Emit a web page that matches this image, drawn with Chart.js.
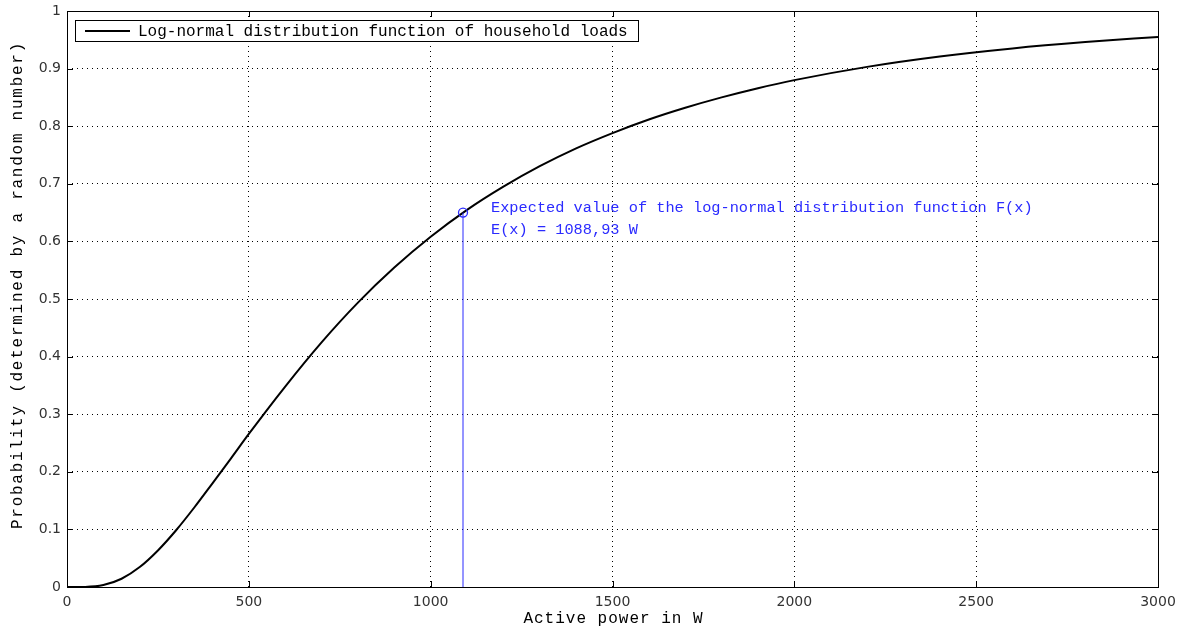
<!DOCTYPE html>
<html>
<head>
<meta charset="utf-8">
<script src="https://cdn.jsdelivr.net/npm/chart.js@4/dist/chart.umd.min.js"></script>
<style>
html,body{margin:0;padding:0;background:#fff;}
#wrap{width:1193px;height:630px;}
</style>
</head>
<body>
<div id="wrap"><canvas id="c" width="1193" height="630"></canvas></div>
<script>
// Values
const powerW = [0, 50, 100, 150, 200, 250, 300, 350, 400, 450, 500, 600, 700, 800, 900, 1000, 1100, 1200, 1300, 1400, 1500, 1600, 1700, 1800, 1900, 2000, 2200, 2400, 2600, 2800, 3000];
const probability = [0, 0.0002, 0.0033, 0.0143, 0.0346, 0.0634, 0.0985, 0.138, 0.180, 0.2225, 0.2657, 0.348, 0.4247, 0.4937, 0.5545, 0.608, 0.6547, 0.695, 0.7305, 0.7615, 0.788, 0.8116, 0.832, 0.850, 0.866, 0.880, 0.903, 0.921, 0.935, 0.946, 0.955];
const expectedX = [1088.93];
const expectedY = [0.65];
const xTicks = [0, 500, 1000, 1500, 2000, 2500, 3000];
const yTicks = [0, 0.1, 0.2, 0.3, 0.4, 0.5, 0.6, 0.7, 0.8, 0.9, 1];
const seriesLabel = "Log-normal distribution function of household loads";
const annotationLines = ["Expected value of the log-normal distribution function F(x)", "E(x) = 1088,93 W"];
const xTitle = "Active power in W";
const yTitle = "Probability (determined by a random number)";

const MONO = "'Liberation Mono', 'Courier New', monospace";
const SANS = "'DejaVu Sans', sans-serif";

const curve = powerW.map((x, i) => ({x: x, y: probability[i]}));
const evPoint = expectedX.map((x, i) => ({x: x, y: expectedY[i]}));
const evLine = [{x: expectedX[0], y: 0}, {x: expectedX[0], y: expectedY[0]}];

const framePlugin = {
  id: 'frame',
  afterDatasetsDraw(chart) {
    const ctx = chart.ctx;
    const a = chart.chartArea;
    const xs = chart.scales.x, ys = chart.scales.y;
    ctx.save();
    ctx.strokeStyle = '#000';
    ctx.lineWidth = 1;
    // inner tick marks
    ctx.beginPath();
    xTicks.forEach(v => {
      const px = Math.round(xs.getPixelForValue(v)) + 0.5;
      ctx.moveTo(px, a.bottom); ctx.lineTo(px, a.bottom - 6);
      ctx.moveTo(px, a.top); ctx.lineTo(px, a.top + 6);
    });
    yTicks.forEach(v => {
      const py = Math.round(ys.getPixelForValue(v)) + 0.5;
      ctx.moveTo(a.left, py); ctx.lineTo(a.left + 6, py);
      ctx.moveTo(a.right, py); ctx.lineTo(a.right - 6, py);
    });
    ctx.stroke();
    // frame
    ctx.strokeRect(Math.round(a.left) + 0.5, Math.round(a.top) + 0.5, Math.round(a.right - a.left), Math.round(a.bottom - a.top));
    // legend box
    const lx = Math.round(a.left) + 8, ly = Math.round(a.top) + 9, lw = 563, lh = 21;
    ctx.fillStyle = '#fff';
    ctx.fillRect(lx, ly, lw, lh);
    ctx.strokeRect(lx + 0.5, ly + 0.5, lw, lh);
    ctx.beginPath();
    ctx.lineWidth = 2;
    ctx.moveTo(lx + 10, ly + 11); ctx.lineTo(lx + 55, ly + 11);
    ctx.stroke();
    ctx.fillStyle = '#000';
    ctx.font = '16px ' + MONO;
    ctx.textBaseline = 'middle';
    ctx.textAlign = 'left';
    ctx.fillText(seriesLabel, lx + 63, ly + 11.5);
    // annotation
    const ax = xs.getPixelForValue(expectedX[0]) + 28;
    const ay = ys.getPixelForValue(expectedY[0]);
    ctx.fillStyle = '#2b2bff';
    ctx.font = '15.3px ' + MONO;
    ctx.fillText(annotationLines[0], ax, ay - 5);
    ctx.fillText(annotationLines[1], ax, ay + 17);
    // axis titles
    ctx.fillStyle = '#000';
    ctx.font = '16px ' + MONO;
    ctx.textAlign = 'center';
    ctx.letterSpacing = '1px';
    ctx.fillText(xTitle, (a.left + a.right) / 2 + 1, 619);
    ctx.save();
    ctx.translate(18, 285);
    ctx.rotate(-Math.PI / 2);
    ctx.letterSpacing = '1.75px';
    ctx.fillText(yTitle, 0, 0);
    ctx.restore();
    ctx.restore();
  }
};

new Chart(document.getElementById('c'), {
  type: 'line',
  data: {
    datasets: [
      {label: seriesLabel, data: curve, borderColor: '#000', borderWidth: 2, pointRadius: 0, cubicInterpolationMode: 'monotone', fill: false, order: 2},
      {label: 'E(x)', data: evLine, borderColor: '#2b2bff', borderWidth: 1, pointRadius: 0, fill: false, order: 1},
      {label: 'E(x) point', data: evPoint, showLine: false, borderColor: '#2b2bff', backgroundColor: 'rgba(0,0,0,0)', borderWidth: 1.3, pointRadius: 4.5, pointStyle: 'circle', order: 0}
    ]
  },
  options: {
    responsive: false,
    animation: false,
    layout: {padding: {top: 11, right: 35, left: 0, bottom: 0}},
    plugins: {legend: {display: false}, tooltip: {enabled: false}},
    scales: {
      x: {
        type: 'linear', min: 0, max: 3000,
        afterBuildTicks: s => { s.ticks = xTicks.map(v => ({value: v})); },
        afterFit: s => { s.height = 43; s.paddingLeft = 0; s.paddingRight = 0; },
        grid: {color: '#000', lineWidth: 1, drawTicks: false},
        border: {display: false, dash: [1, 4]},
        ticks: {color: '#333', font: {family: SANS, size: 14}, padding: 7, maxRotation: 0, autoSkip: false, callback: v => String(v)},
        title: {display: false}
      },
      y: {
        type: 'linear', min: 0, max: 1,
        afterBuildTicks: s => { s.ticks = yTicks.map(v => ({value: v})); },
        afterFit: s => { s.width = 67; s.paddingTop = 0; s.paddingBottom = 0; },
        grid: {color: '#000', lineWidth: 1, drawTicks: false},
        border: {display: false, dash: [1, 4]},
        ticks: {color: '#333', font: {family: SANS, size: 14}, padding: 6, autoSkip: false, callback: v => String(v)},
        title: {display: false}
      }
    }
  },
  plugins: [framePlugin]
});
</script>
</body>
</html>
